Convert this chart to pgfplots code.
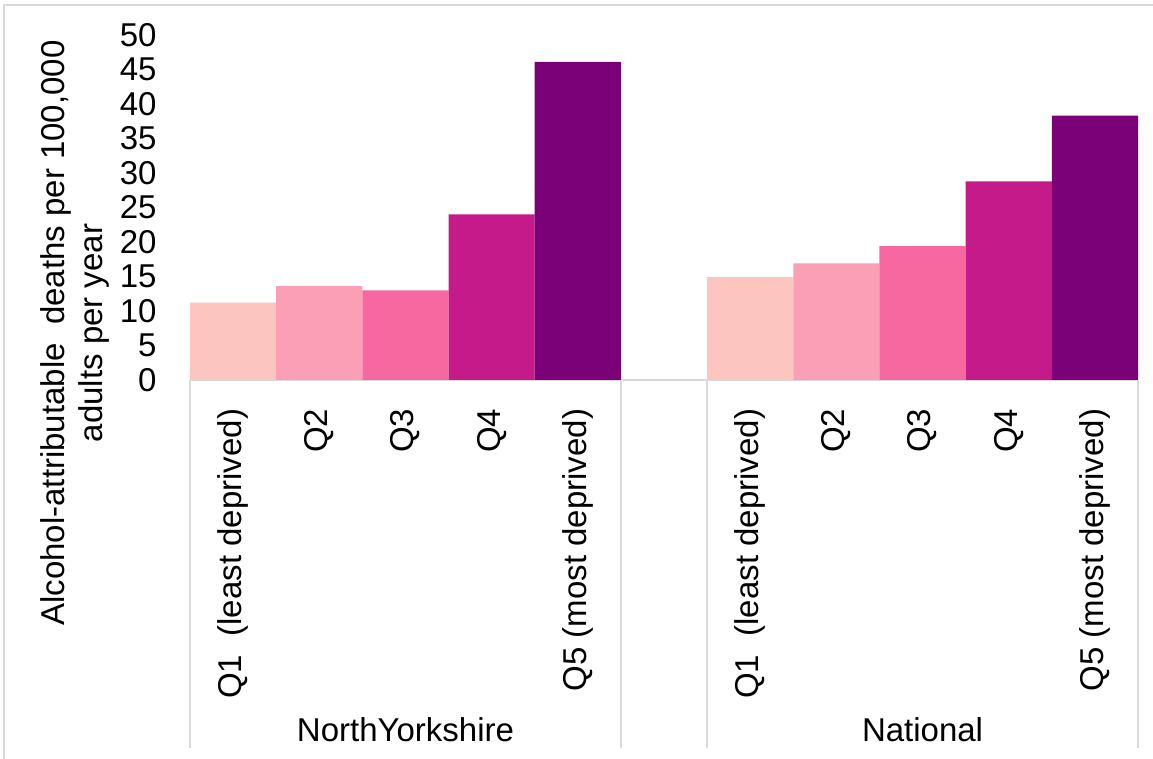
\documentclass[border=0pt]{standalone}
\usepackage{pgfplots}
\pgfplotsset{compat=1.18}
\usepackage{fontspec}
\setmainfont{Liberation Sans}
\definecolor{qa}{HTML}{FCC5C0}
\definecolor{qb}{HTML}{FA9FB5}
\definecolor{qc}{HTML}{F768A1}
\definecolor{qd}{HTML}{C51B8A}
\definecolor{qe}{HTML}{7A0177}
\definecolor{gridgray}{HTML}{D9D9D9}
\newcommand{\lbl}{\fontsize{16.5}{19}\selectfont}
\begin{document}
\begin{tikzpicture}
\useasboundingbox (0,0) rectangle (576.5pt,379.5pt);
\fill[white] (0,0) rectangle (576.5pt,379.5pt);
\draw[gridgray, line width=1pt] (2pt,0) -- (2pt,377pt) -- (576.5pt,377pt);
\begin{axis}[
  scale only axis,
  width=474pt, height=172.5pt,
  anchor=south west, at={(95pt,189.5pt)},
  xmin=-0.5, xmax=10.5,
  ymin=0, ymax=50,
  ytick={0,5,...,50},
  xtick={0,1,2,3,4,6,7,8,9,10},
  xticklabels={{Q1\ \ (least deprived)},Q2,Q3,Q4,{Q5 (most deprived)},{Q1\ \ (least deprived)},Q2,Q3,Q4,{Q5 (most deprived)}},
  axis x line*=bottom, axis y line*=left,
  y axis line style={draw=none},
  x axis line style={draw=gridgray, line width=1pt, -},
  tick style={draw=none},
  /pgf/number format/assume math mode=true,
  tick label style={font=\lbl},
  yticklabel style={anchor=east, inner sep=0pt, xshift=-16.5pt},
  xticklabel style={yshift=-10pt, rotate=90, anchor=east, inner sep=0pt},
  ybar, bar width=1, bar shift=0pt,
  clip=false,
]
\addplot[fill=qa, draw=none] coordinates {(0,11.2) (6,14.9)};
\addplot[fill=qb, draw=none] coordinates {(1,13.6) (7,16.9)};
\addplot[fill=qc, draw=none] coordinates {(2,13.0) (8,19.4)};
\addplot[fill=qd, draw=none] coordinates {(3,24.0) (9,28.8)};
\addplot[fill=qe, draw=none] coordinates {(4,46.1) (10,38.3)};
\coordinate (s1) at (axis cs:-0.5,0);
\coordinate (s2) at (axis cs:4.5,0);
\coordinate (s3) at (axis cs:5.5,0);
\coordinate (s4) at (axis cs:10.5,0);
\coordinate (g1) at (axis cs:2,0);
\coordinate (g2) at (axis cs:8,0);
\end{axis}
\foreach \s in {s1,s2,s3,s4} {
  \draw[gridgray, line width=0.8pt] (\s) -- (\s |- 0,5.5pt);
}
\node[font=\lbl, inner sep=0pt] at (g1 |- 0,14.5pt) {NorthYorkshire};
\node[font=\lbl, inner sep=0pt] at (g2 |- 0,14.5pt) {National};
\node[font=\lbl, rotate=90, align=center, inner sep=0pt] at (37.5pt,213pt) {Alcohol-attributable\ \ deaths per 100,000\\adults per year};
\end{tikzpicture}
\end{document}
